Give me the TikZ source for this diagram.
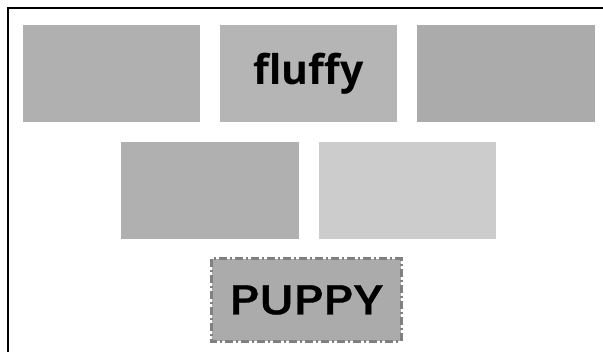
\documentclass[tikz,border=0pt]{standalone}
\usepackage{fontspec}
\usepackage{graphicx}
\newfontfamily\fluffyfont{Open Sans}
\newfontfamily\puppyfont{Poppins}[UprightFont={* Medium},FakeBold=0.7]
\begin{document}
\begin{tikzpicture}[x=1pt,y=-1pt,
  tile/.style={draw=none,rectangle,inner sep=0pt,minimum width=177pt,minimum height=97pt},
  frameline/.style={line width=2pt,black},
  dashborder/.style={draw=black!50,line width=3pt,dash pattern=on 8pt off 3pt on 2pt off 3pt}]
\useasboundingbox (0,0) rectangle (603,352);
\fill[white] (0,0) rectangle (603,352);
\coordinate (fb) at (8,353);
\coordinate (fc) at (8,8);
\coordinate (fr) at (604,8);
\draw[frameline] (fb) -- (fc) -- (fr);
\node[tile,fill=black!31] (t1) at (111.5,73.5) {};
\node[tile,fill=black!29] (t2) at (308.5,73.5) {\fluffyfont\bfseries\fontsize{41}{41}\selectfont fluffy};
\node[tile,fill=black!33,minimum width=178pt] (t3) at (506,73.5) {};
\node[tile,fill=black!31,minimum width=178pt] (t4) at (210,190.5) {};
\node[tile,fill=black!20] (t5) at (407.5,190.5) {};
\node[tile,fill=black!33,minimum width=189pt,minimum height=82pt] (pp) at (306.5,300) {\scalebox{1.19}[1]{\puppyfont\fontsize{42}{42}\selectfont PUPPY}};
\draw[dashborder] (pp.north west) rectangle (pp.south east);
\end{tikzpicture}
\end{document}
